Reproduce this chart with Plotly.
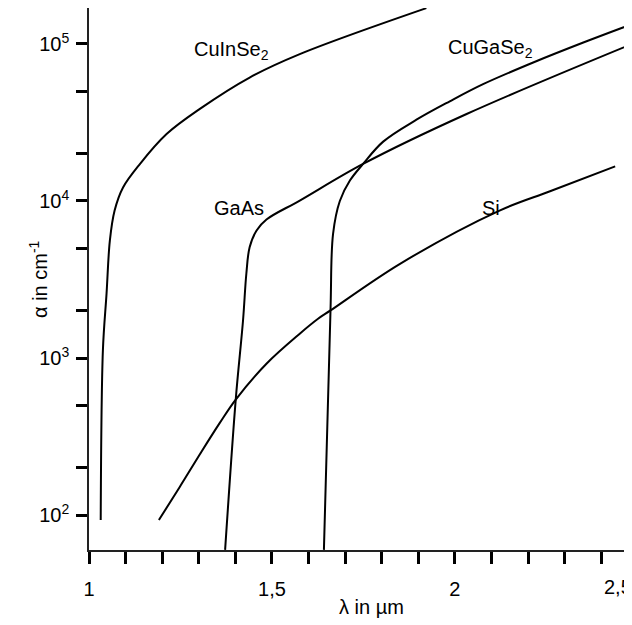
import numpy as np
import plotly.graph_objects as go

# ---- data (x in axis units, alpha in cm^-1) ----
cuinse2_x = [1.032, 1.038, 1.048, 1.057, 1.070, 1.093, 1.139, 1.212, 1.303, 1.439, 1.576, 1.922]
cuinse2_y = [93, 1120, 2580, 5600, 8700, 12200, 17200, 26700, 38600, 61100, 86100, 169000]

cugase2_x = [1.642, 1.660, 1.667, 1.6855, 1.713, 1.749, 1.804, 1.895, 1.986, 2.077, 2.214, 2.351, 2.484]
cugase2_y = [60, 2010, 6180, 10000, 13490, 17220, 23880, 32930, 43150, 55460, 76210, 102100, 133700]

gaas_x = [1.372, 1.401, 1.421, 1.430, 1.439, 1.458, 1.485, 1.576, 1.749, 2.032, 2.484]
gaas_y = [60, 544, 1740, 3440, 5080, 6490, 7620, 10060, 17220, 35810, 100000]

si_x = [1.191, 1.248, 1.303, 1.357, 1.401, 1.485, 1.576, 1.626, 1.660, 1.850, 2.122, 2.260, 2.438]
si_y = [93, 151, 244, 385, 544, 920, 1429, 1778, 2009, 3981, 8690, 11530, 16630]

labels = ["CuInSe<sub>2</sub>", "CuGaSe<sub>2</sub>", "GaAs", "Si"]
label_x = [1.390, 2.096, 1.410, 2.098]
label_y = [90300, 93100, 9080, 9080]

x_tickvals = [round(1 + 0.1 * i, 1) for i in range(15)]
x_ticktext = ["1", "", "", "", "", "1,5", "", "", "", "", "2", "", "", "", ""]
y_tickvals = [100, 200, 500, 1000, 2000, 5000, 10000, 20000, 50000, 100000]
y_ticktext = ["10<sup>2</sup>", "", "", "10<sup>3</sup>", "", "", "10<sup>4</sup>", "", "", "10<sup>5</sup>"]

FONT = "Liberation Sans, Arial, Helvetica, sans-serif"
FS = 20
fig = go.Figure()
for xs, ys in [(cuinse2_x, cuinse2_y), (cugase2_x, cugase2_y), (gaas_x, gaas_y), (si_x, si_y)]:
    fig.add_trace(go.Scatter(x=xs, y=ys, mode="lines",
                             line=dict(color="black", width=2, shape="spline", smoothing=1.0),
                             showlegend=False, hoverinfo="skip"))

for t, lx, ly in zip(labels, label_x, label_y):
    fig.add_annotation(x=lx, y=np.log10(ly), text=t, showarrow=False,
                       font=dict(family=FONT, size=FS, color="black"))

common = dict(xref="paper", yref="paper", showarrow=False, xanchor="center", yanchor="middle",
              font=dict(family=FONT, size=FS, color="black"))
# last x tick label (sits at the cut-off right edge)
fig.add_annotation(x=0.974, y=-0.068, text="2,5", **common)
# axis titles
fig.add_annotation(x=0.521, y=-0.105, text="λ in µm", **common)
fig.add_annotation(x=-0.094, y=0.5, text="α in cm<sup>-1</sup>", textangle=-90, **common)

fig.update_layout(
    width=632, height=625,
    margin=dict(l=81, r=8, t=0, b=83),
    paper_bgcolor="white", plot_bgcolor="white",
    font=dict(family=FONT, size=FS, color="black"),
    xaxis=dict(range=[1, 2.484], tickmode="array", tickvals=x_tickvals, ticktext=x_ticktext,
               ticks="outside", ticklen=12, tickwidth=2.5, tickcolor="black", automargin=False,
               ticklabelstandoff=8,
               showline=True, linecolor="#222", linewidth=1.5, showgrid=False, zeroline=False),
    yaxis=dict(type="log", range=[1.7775, 5.229], tickmode="array", tickvals=y_tickvals,
               ticktext=y_ticktext, ticks="outside", ticklen=11, tickwidth=2.5, tickcolor="black",
               automargin=False, ticklabelstandoff=3,
               showline=True, linecolor="#222", linewidth=1.5, showgrid=False, zeroline=False),
)

fig.write_html("out.html")
